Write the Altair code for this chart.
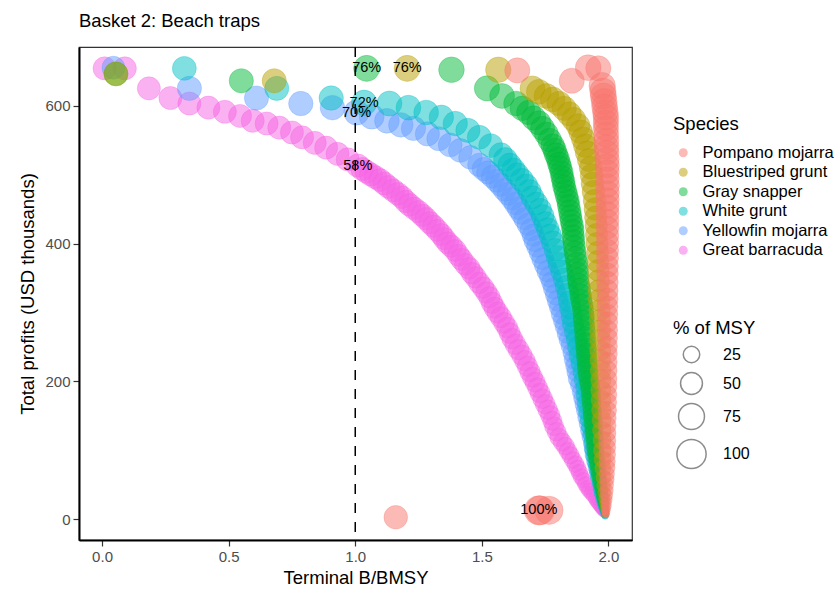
import altair as alt
import pandas as pd

FONT = "Liberation Sans"

species_order = ["Pompano mojarra", "Bluestriped grunt", "Gray snapper",
                 "White grunt", "Yellowfin mojarra", "Great barracuda"]
palette = ["#F8766D", "#B79F00", "#00BA38", "#00BFC4", "#619CFF", "#F564E3"]

# Each point: [terminal B/BMSY, total profits (USD thousands), % of MSY]
great_barracuda = [
    [0.01, 654, 57], [0.09, 654, 57], [0.185, 625, 57], [0.27, 611, 57], [0.345, 603, 57],
    [0.42, 597, 57], [0.485, 591, 57], [0.545, 585, 57], [0.595, 578, 57], [0.65, 574, 57],
    [0.70, 568, 57], [0.75, 561, 57], [0.79, 554, 57], [0.84, 546, 57], [0.885, 539, 57],
    [0.93, 530, 57], [0.97, 522, 57], [1.01, 513, 58], [1.028, 508, 57], [1.045, 504, 57],
    [1.062, 500, 57], [1.08, 496, 57], [1.098, 492, 56], [1.115, 487, 56], [1.132, 482, 56],
    [1.15, 477, 56], [1.168, 472, 55], [1.185, 467, 55], [1.2, 461, 55], [1.215, 456, 55],
    [1.232, 451, 54], [1.25, 446, 54], [1.265, 441, 54], [1.28, 436, 54], [1.295, 430, 53],
    [1.31, 425, 53], [1.325, 419, 53], [1.34, 413, 52], [1.352, 407, 52], [1.365, 401, 52],
    [1.38, 396, 52], [1.395, 390, 51], [1.408, 383, 51], [1.42, 377, 51], [1.435, 370, 50],
    [1.45, 364, 50], [1.462, 357, 50], [1.475, 351, 49], [1.49, 343, 49], [1.505, 336, 49],
    [1.518, 329, 48], [1.53, 322, 48], [1.54, 314, 48], [1.55, 307, 47], [1.562, 300, 47],
    [1.575, 293, 47], [1.588, 285, 46], [1.60, 278, 46], [1.61, 270, 46], [1.62, 262, 45],
    [1.632, 254, 45], [1.645, 246, 45], [1.658, 238, 44], [1.67, 230, 44], [1.68, 222, 43],
    [1.69, 214, 43], [1.70, 206, 42], [1.71, 199, 42], [1.72, 191, 41], [1.73, 183, 41],
    [1.74, 175, 40], [1.75, 167, 40], [1.76, 159, 39], [1.77, 151, 38], [1.778, 143, 37],
    [1.785, 135, 36], [1.795, 127, 35], [1.805, 119, 34], [1.818, 112, 33], [1.83, 106, 32],
    [1.84, 99, 30], [1.85, 93, 29], [1.86, 86, 28], [1.87, 80, 27], [1.878, 74, 26],
    [1.885, 68, 25], [1.892, 62, 24], [1.90, 57, 22], [1.908, 51, 21], [1.915, 46, 19],
    [1.922, 42, 18], [1.93, 38, 16], [1.938, 34, 15], [1.945, 30, 13], [1.95, 26, 12],
    [1.955, 23, 10], [1.96, 20, 9], [1.965, 17, 8], [1.968, 15, 7], [1.972, 13, 6],
    [1.975, 11, 5], [1.978, 10, 4], [1.982, 8, 3], [1.985, 7, 2],
]

yellowfin_mojarra = [
    [0.045, 655, 56], [0.345, 625, 64], [0.61, 611, 64], [0.785, 603, 65], [0.91, 597, 66],
    [1.005, 590, 70], [1.065, 584, 68], [1.125, 578, 67], [1.18, 572, 66], [1.23, 567, 65],
    [1.285, 559, 64], [1.33, 552, 63], [1.375, 543, 62], [1.415, 535, 61], [1.455, 525, 60],
    [1.49, 514, 59], [1.508, 508, 59], [1.525, 503, 58], [1.543, 497, 58], [1.56, 491, 57],
    [1.575, 485, 57], [1.59, 478, 56], [1.605, 472, 56], [1.62, 465, 55], [1.633, 458, 55],
    [1.645, 451, 54], [1.658, 444, 54], [1.67, 436, 53], [1.683, 428, 53], [1.695, 420, 52],
    [1.703, 412, 52], [1.71, 404, 51], [1.72, 396, 51], [1.73, 387, 50], [1.74, 378, 50],
    [1.75, 369, 49], [1.76, 360, 49], [1.77, 352, 48], [1.778, 344, 48], [1.785, 335, 47],
    [1.793, 326, 47], [1.80, 317, 46], [1.808, 308, 46], [1.815, 298, 45], [1.823, 289, 45],
    [1.83, 280, 44], [1.838, 270, 44], [1.845, 261, 43], [1.853, 252, 43], [1.86, 242, 42],
    [1.865, 232, 41], [1.87, 223, 40], [1.875, 214, 40], [1.88, 204, 39], [1.888, 195, 38],
    [1.895, 185, 37], [1.90, 176, 36], [1.905, 167, 35], [1.91, 158, 34], [1.915, 148, 33],
    [1.92, 139, 32], [1.925, 129, 31], [1.93, 120, 30], [1.935, 110, 28], [1.938, 102, 27],
    [1.94, 93, 25], [1.945, 84, 23], [1.95, 75, 21], [1.954, 67, 19], [1.958, 59, 17],
    [1.962, 52, 15], [1.965, 45, 13], [1.968, 38, 11], [1.972, 32, 9], [1.975, 26, 7],
    [1.978, 20, 6], [1.98, 16, 4], [1.983, 12, 3], [1.985, 9, 2], [1.987, 6, 2],
]

white_grunt = [
    [0.325, 654, 62], [0.69, 625, 63], [0.905, 611, 65], [1.035, 604, 72], [1.135, 603, 69],
    [1.21, 597, 68], [1.28, 590, 67], [1.34, 583, 66], [1.395, 574, 65], [1.445, 564, 64],
    [1.49, 554, 63], [1.535, 542, 62], [1.575, 529, 61], [1.593, 522, 61], [1.61, 514, 60],
    [1.625, 507, 60], [1.64, 500, 59], [1.658, 492, 59], [1.675, 484, 58], [1.688, 476, 58],
    [1.70, 467, 57], [1.715, 458, 57], [1.73, 449, 56], [1.74, 440, 56], [1.75, 430, 55],
    [1.76, 421, 55], [1.77, 412, 54], [1.78, 402, 54], [1.79, 391, 53], [1.798, 381, 53],
    [1.805, 371, 52], [1.815, 360, 52], [1.825, 349, 51], [1.833, 338, 51], [1.84, 327, 50],
    [1.845, 316, 49], [1.85, 306, 49], [1.855, 295, 48], [1.86, 284, 48], [1.868, 272, 47],
    [1.875, 261, 46], [1.88, 250, 46], [1.885, 238, 45], [1.893, 226, 44], [1.90, 214, 43],
    [1.905, 202, 42], [1.91, 191, 41], [1.912, 180, 40], [1.915, 168, 38], [1.92, 156, 37],
    [1.925, 145, 35], [1.93, 134, 34], [1.935, 123, 32], [1.938, 112, 30], [1.94, 101, 28],
    [1.945, 91, 26], [1.95, 81, 24], [1.954, 71, 21], [1.958, 62, 19], [1.962, 53, 16],
    [1.965, 45, 14], [1.968, 37, 12], [1.972, 30, 10], [1.975, 24, 8], [1.978, 19, 6],
    [1.98, 14, 4], [1.983, 10, 3], [1.985, 7, 2], [1.987, 5, 2],
]

gray_snapper = [
    [0.055, 646, 62], [0.55, 636, 64], [1.045, 654, 76], [1.38, 652, 73], [1.52, 625, 70],
    [1.58, 614, 68], [1.635, 603, 67], [1.66, 596, 66], [1.685, 590, 65], [1.705, 582, 65],
    [1.725, 575, 64], [1.74, 567, 63], [1.755, 559, 62], [1.768, 550, 61], [1.78, 542, 60],
    [1.787, 536, 60], [1.793, 529, 59], [1.80, 523, 58], [1.805, 516, 58], [1.81, 510, 57],
    [1.815, 503, 57], [1.818, 496, 56], [1.822, 490, 56], [1.825, 483, 56], [1.83, 476, 55],
    [1.835, 469, 55], [1.84, 462, 54], [1.843, 455, 54], [1.847, 447, 54], [1.85, 440, 53],
    [1.853, 433, 53], [1.857, 426, 53], [1.86, 419, 52], [1.861, 411, 52], [1.863, 404, 51],
    [1.865, 396, 51], [1.868, 388, 51], [1.871, 380, 50], [1.875, 372, 50], [1.877, 364, 50],
    [1.879, 357, 49], [1.88, 349, 49], [1.883, 341, 49], [1.887, 334, 48], [1.89, 326, 48],
    [1.893, 318, 48], [1.897, 311, 47], [1.90, 303, 47], [1.902, 295, 47], [1.903, 288, 46],
    [1.905, 280, 46], [1.907, 272, 45], [1.908, 264, 45], [1.91, 256, 44], [1.912, 248, 44],
    [1.913, 241, 43], [1.915, 233, 43], [1.917, 225, 42], [1.918, 218, 42], [1.92, 210, 41],
    [1.923, 202, 40], [1.927, 195, 40], [1.93, 187, 39], [1.932, 179, 38], [1.933, 172, 37],
    [1.935, 164, 36], [1.937, 156, 35], [1.938, 149, 35], [1.94, 141, 34], [1.942, 134, 33],
    [1.943, 126, 32], [1.945, 119, 30], [1.947, 112, 29], [1.948, 104, 28], [1.95, 97, 27],
    [1.952, 90, 25], [1.955, 83, 24], [1.958, 77, 23], [1.96, 70, 21], [1.962, 64, 19],
    [1.965, 58, 18], [1.967, 52, 16], [1.97, 47, 14], [1.972, 42, 13], [1.974, 37, 11],
    [1.976, 32, 10], [1.978, 28, 9], [1.979, 24, 7], [1.981, 20, 6], [1.983, 16, 4],
    [1.985, 12, 3], [1.987, 9, 2],
]

bluestriped_grunt = [
    [0.055, 646, 62], [0.68, 636, 64], [1.205, 654, 76], [1.565, 652, 72], [1.70, 625, 68],
    [1.725, 620, 68], [1.755, 614, 67], [1.78, 609, 67], [1.805, 603, 66], [1.825, 596, 65],
    [1.845, 588, 64], [1.863, 580, 63], [1.88, 571, 62], [1.89, 562, 61], [1.90, 552, 60],
    [1.908, 542, 59], [1.915, 532, 58], [1.923, 521, 57], [1.93, 510, 56], [1.934, 499, 56],
    [1.937, 487, 55], [1.941, 475, 55], [1.945, 462, 54], [1.948, 450, 54], [1.95, 438, 53],
    [1.952, 426, 53], [1.953, 413, 52], [1.955, 400, 52], [1.957, 387, 51], [1.958, 374, 51],
    [1.96, 361, 50], [1.961, 346, 50], [1.962, 332, 49], [1.963, 318, 49], [1.965, 303, 48],
    [1.966, 289, 47], [1.967, 274, 46], [1.967, 260, 46], [1.968, 245, 45], [1.968, 231, 44],
    [1.969, 216, 43], [1.97, 202, 42], [1.97, 187, 41], [1.971, 173, 40], [1.972, 158, 38],
    [1.973, 144, 36], [1.974, 129, 34], [1.975, 115, 32], [1.976, 100, 30], [1.977, 87, 27],
    [1.978, 74, 24], [1.98, 61, 20], [1.981, 49, 16], [1.983, 39, 13], [1.984, 30, 10],
    [1.985, 23, 7], [1.986, 16, 5], [1.987, 11, 3], [1.988, 7, 2],
]

pompano_mojarra = [
    [1.64, 651, 70], [1.855, 636, 70], [1.92, 655, 74], [1.96, 654, 70], [1.16, 3, 60],
    [1.725, 13, 100], [1.73, 13, 98], [1.765, 13, 92],
    [1.975, 629, 78], [1.978, 621, 77], [1.98, 614, 76], [1.983, 606, 75], [1.985, 598, 74],
    [1.988, 590, 73], [1.99, 583, 72], [1.99, 575, 71], [1.99, 567, 70], [1.991, 558, 69],
    [1.992, 549, 68], [1.992, 540, 67], [1.993, 532, 66], [1.994, 522, 65], [1.995, 513, 64],
    [1.995, 504, 63], [1.995, 494, 62], [1.996, 484, 61], [1.996, 474, 60], [1.996, 464, 59],
    [1.996, 454, 58], [1.996, 444, 57], [1.996, 433, 56], [1.996, 423, 55], [1.996, 412, 54],
    [1.996, 401, 53], [1.996, 390, 52], [1.996, 379, 51], [1.996, 367, 50], [1.996, 356, 49],
    [1.996, 344, 48], [1.996, 332, 47], [1.996, 320, 46], [1.996, 309, 45], [1.996, 297, 44],
    [1.996, 286, 43], [1.996, 274, 42], [1.996, 263, 41], [1.996, 251, 40], [1.996, 240, 39],
    [1.996, 228, 38], [1.996, 216, 37], [1.996, 204, 36], [1.996, 193, 35], [1.996, 181, 34],
    [1.996, 170, 33], [1.996, 158, 32], [1.995, 147, 31], [1.995, 136, 30], [1.995, 125, 29],
    [1.995, 114, 28], [1.995, 104, 27], [1.995, 94, 26], [1.995, 84, 24], [1.995, 75, 22],
    [1.994, 66, 20], [1.994, 58, 18], [1.993, 50, 16], [1.993, 42, 14], [1.992, 35, 12],
    [1.992, 29, 10], [1.991, 24, 8], [1.991, 19, 7], [1.99, 15, 5], [1.99, 12, 4],
    [1.99, 9, 3], [1.99, 7, 2],
]

# text labels (% of MSY) placed on their points
label_species = ["Gray snapper", "Bluestriped grunt", "White grunt", "Yellowfin mojarra",
                 "Great barracuda", "Pompano mojarra"]
label_x = [1.045, 1.205, 1.035, 1.005, 1.01, 1.725]
label_y = [654, 654, 604, 590, 513, 13]
label_text = ["76%", "76%", "72%", "70%", "58%", "100%"]

series = [
    ("Great barracuda", great_barracuda),
    ("Yellowfin mojarra", yellowfin_mojarra),
    ("White grunt", white_grunt),
    ("Gray snapper", gray_snapper),
    ("Bluestriped grunt", bluestriped_grunt),
    ("Pompano mojarra", pompano_mojarra),
]
rows = []
for name, pts in series:
    for xv, yv, pv in pts:
        rows.append({"species": name, "b": xv, "profit": yv, "pct": pv})
df = pd.DataFrame(rows)
df["ord"] = range(len(df))

lab_df = pd.DataFrame({"species": label_species, "b": label_x, "profit": label_y, "label": label_text})
vline_df = pd.DataFrame({"b": [1.0]})

xscale = alt.Scale(domain=[-0.091, 2.093], nice=False, zero=False)
yscale = alt.Scale(domain=[-30, 685], nice=False, zero=False)
cscale = alt.Scale(domain=species_order, range=palette)

points = alt.Chart(df).mark_circle(fillOpacity=0.5, strokeOpacity=0.3, strokeWidth=1).encode(
    x=alt.X("b:Q", scale=xscale,
            axis=alt.Axis(values=[0, 0.5, 1, 1.5, 2], format=".1f", title="Terminal B/BMSY",
                          titleY=43, titleBaseline="alphabetic")),
    y=alt.Y("profit:Q", scale=yscale,
            axis=alt.Axis(values=[0, 200, 400, 600], title="Total profits (USD thousands)",
                          titleX=-46, titleY=246.5, titleAngle=270, titleBaseline="alphabetic",
                          titleAlign="center")),
    color=alt.Color("species:N", scale=cscale,
                    legend=alt.Legend(title="Species", orient="none", legendX=594, legendY=68,
                                      symbolType="circle", symbolSize=80, symbolOpacity=0.5,
                                      symbolStrokeWidth=0, labelFontSize=16.5, titleFontSize=18.5,
                                      rowPadding=2.5, labelOffset=11, symbolOffset=2, titlePadding=11,
                                      padding=0)),
    stroke=alt.Stroke("species:N", scale=cscale, legend=None),
    size=alt.Size("pct:Q",
                  scale=alt.Scale(type="pow", exponent=0.86, domain=[0, 100], range=[17, 855]),
                  legend=alt.Legend(title="% of MSY", orient="none", legendX=594, legendY=272,
                                    values=[25, 50, 75, 100], symbolType="circle",
                                    symbolFillColor="transparent", symbolStrokeColor="#8c8c8c",
                                    symbolStrokeWidth=1.5, symbolOpacity=1, labelFontSize=16,
                                    titleFontSize=18.5, rowPadding=3, labelOffset=16,
                                    symbolOffset=3, titlePadding=8, padding=0)),
    order=alt.Order("ord:Q"),
)

vline = alt.Chart(vline_df).mark_rule(strokeDash=[10, 9], strokeWidth=1.5, color="black").encode(
    x=alt.X("b:Q", scale=xscale)
)

labels = alt.Chart(lab_df).mark_text(font=FONT, fontSize=14.5, color="black",
                                     align="center", baseline="middle").encode(
    x=alt.X("b:Q", scale=xscale),
    y=alt.Y("profit:Q", scale=yscale),
    text="label:N",
)

chart = alt.layer(points, vline, labels).properties(
    width=553,
    height=493,
    title=alt.TitleParams("Basket 2: Beach traps", anchor="start", frame="group", fontSize=18.5,
                          font=FONT, fontWeight="normal", color="black", offset=16),
    autosize=alt.AutoSizeParams(type="none"),
    padding={"left": 79, "top": 47, "right": 206, "bottom": 49},
).configure_view(
    stroke="#333333", strokeWidth=1.2
).configure_axis(
    domainColor="black", domainWidth=2, tickColor="#333333", tickWidth=1.2, tickSize=6,
    labelColor="#4d4d4d", labelFont=FONT, labelFontSize=15, titleFont=FONT, titleFontSize=18.5,
    titleFontWeight="normal", titleColor="black", grid=False, labelPadding=3,
).configure_legend(
    titleFont=FONT, labelFont=FONT, titleFontWeight="normal", titleColor="black",
    labelColor="black",
)

chart.save("out.html", embed_options={"renderer": "svg", "actions": False})
